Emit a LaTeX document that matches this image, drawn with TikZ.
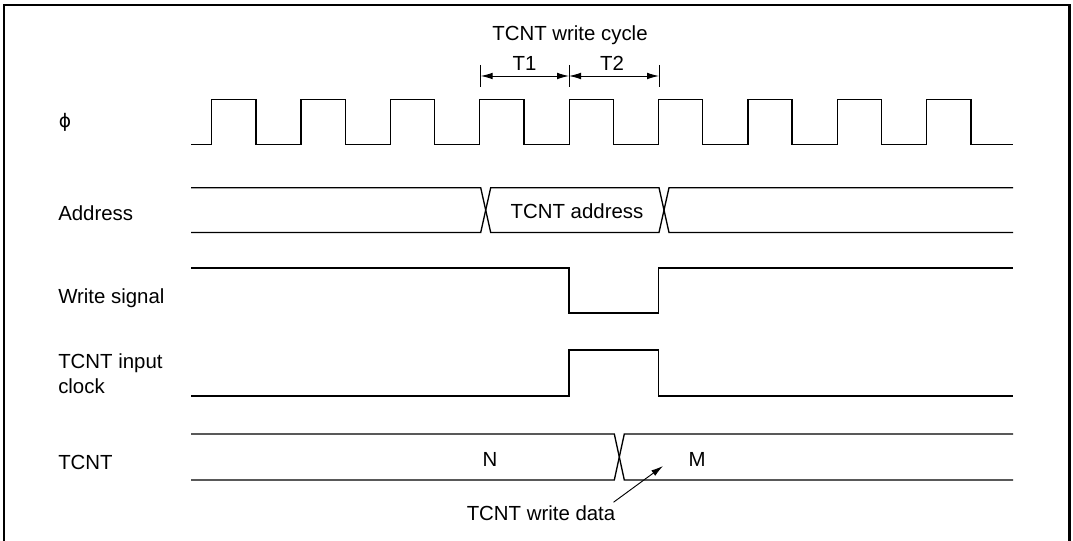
\documentclass[tikz,border=0pt]{standalone}
\usepackage{fontspec}
\setmainfont{Liberation Sans}
\newfontfamily\phifont{DejaVu Sans}
\usetikzlibrary{arrows.meta}
\begin{document}
\begin{tikzpicture}[x=0.75pt,y=-0.75pt,
  sig/.style={line width=1pt,line join=miter},
  lbl/.style={inner sep=0pt,font=\fontsize{15.3}{18.75}\selectfont},
  dim/.style={line width=0.7pt,{Latex[length=9pt,width=5pt]}-{Latex[length=9pt,width=5pt]}},
  tick/.style={line width=0.7pt},
  frame/.style={line width=2pt}]
\useasboundingbox (0,0) rectangle (1073,541);
\clip (0,0) rectangle (1073,541);
\draw[frame] (4,560) -- (4,5) -- (1069.5,5) -- (1069.5,560);

% labels
\node[lbl,font=\phifont\fontsize{14}{17}\selectfont] (lphi) at (65,122) {ϕ};
\node[lbl,anchor=west] (laddr) at (58,213) {Address};
\node[lbl,anchor=west] (lwr) at (58,298) {Write signal};
\node[lbl,anchor=west,align=left] (lin) at (58,374) {TCNT input\\clock};
\node[lbl,anchor=west] (ltc) at (58,462) {TCNT};

% write cycle dimension
\node[lbl] (cyc) at (570,35) {TCNT write cycle};
\coordinate (t0) at (480.7,76);
\coordinate (t1) at (569,76);
\coordinate (t2) at (659,76);
\draw[tick] (480.7,65) -- (480.7,87);
\draw[tick] (569,65) -- (569,87);
\draw[tick] (659,65) -- (659,87);
\draw[dim] (t0) -- (t1);
\draw[dim] (t1) -- (t2);
\node[lbl] (T1) at (524.5,63) {T1};
\node[lbl] (T2) at (612,63) {T2};

% clock
\draw[sig] (191,144.5)
  \foreach \k in {0,...,8}{
    -- ({211.7+89.375*\k},144.5) -- ({211.7+89.375*\k},99.3)
    -- ({255.9+89.375*\k},99.3) -- ({255.9+89.375*\k},144.5)
  } -- (1013,144.5);

% address
\draw[sig] (191,187.7) -- (480.7,187.7) -- (490.7,232.5) -- (659,232.5) -- (669,187.7) -- (1013,187.7);
\draw[sig] (191,232.5) -- (480.7,232.5) -- (490.7,187.7) -- (659,187.7) -- (669,232.5) -- (1013,232.5);
\node[lbl] (addr) at (577,211) {TCNT address};

% write signal
\draw[sig] (191,268) -- (569,268) -- (569,313) -- (658.5,313) -- (658.5,268) -- (1013,268);

% TCNT input clock
\draw[sig] (191,396) -- (569,396) -- (569,350) -- (658.5,350) -- (658.5,396) -- (1013,396);

% TCNT
\draw[sig] (191,434) -- (614.3,434) -- (624.3,480) -- (1013,480);
\draw[sig] (191,480) -- (614.3,480) -- (624.3,434) -- (1013,434);
\node[lbl] (N) at (490,459) {N};
\node[lbl] (M) at (697,459) {M};

% write data annotation
\node[lbl] (wd) at (541,513) {TCNT write data};
\coordinate (wdtip) at (663,466);
\draw[line width=0.7pt,-{Latex[length=9pt,width=5pt]}] (wd.north east) ++(-2,-3) -- (wdtip);
\end{tikzpicture}
\end{document}
